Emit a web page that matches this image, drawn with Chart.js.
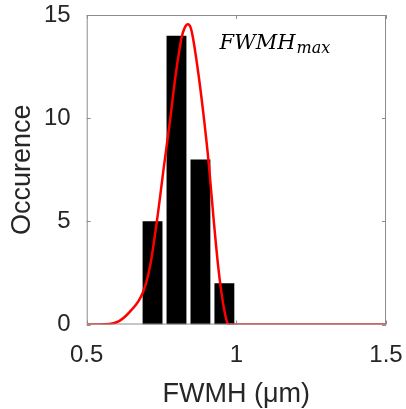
<!DOCTYPE html>
<html>
<head>
<meta charset="utf-8">
<script src="https://cdn.jsdelivr.net/npm/chart.js@4"></script>
<style>
  html, body { margin: 0; padding: 0; background: #fff; }
  #wrap { width: 406px; height: 409px; }
</style>
</head>
<body>
<div id="wrap"><canvas id="myChart" width="406" height="409"></canvas></div>
<script>
// histogram bins (bin centres) and counts
const binCentres = [0.72, 0.80, 0.88, 0.96];
const counts = [5, 14, 8, 2];

// fitted curve
const fitX = [0.5, 0.543, 0.6, 0.643, 0.688, 0.712, 0.734, 0.759, 0.779, 0.796, 0.817, 0.828, 0.838, 0.847, 0.855, 0.875, 0.892, 0.908, 0.925, 0.939, 0.950, 0.961, 0.969, 0.975, 1.5];
const fitY = [0, 0, 0.11, 0.6, 1.56, 2.85, 4.95, 7.77, 9.95, 11.96, 13.9, 14.4, 14.55, 14.4, 13.9, 11.96, 9.95, 7.77, 4.95, 2.85, 1.56, 0.6, 0.11, 0, 0];

const xTicks = [0.5, 1, 1.5];
const yTicks = [0, 5, 10, 15];

const frameColor = '#8c8c8c';

// MATLAB style box with inward ticks, plus the FWMH_max label
const framePlugin = {
    id: 'frame',
    afterDatasetsDraw(chart) {
        const ctx = chart.ctx;
        const a = chart.chartArea;
        const xs = chart.scales.x, ys = chart.scales.y;
        ctx.save();
        ctx.strokeStyle = frameColor;
        ctx.lineWidth = 1;
        ctx.strokeRect(a.left + 0.5, a.top + 0.5, a.right - a.left - 1, a.bottom - a.top - 1);
        ctx.beginPath();
        xTicks.forEach(v => {
            const px = Math.round(xs.getPixelForValue(v)) + 0.5;
            ctx.moveTo(px, a.bottom); ctx.lineTo(px, a.bottom - 4);
            ctx.moveTo(px, a.top); ctx.lineTo(px, a.top + 4);
        });
        yTicks.forEach(v => {
            const py = Math.round(ys.getPixelForValue(v)) + 0.5;
            ctx.moveTo(a.left, py); ctx.lineTo(a.left + 4, py);
            ctx.moveTo(a.right, py); ctx.lineTo(a.right - 4, py);
        });
        ctx.stroke();

        // label
        const lx = xs.getPixelForValue(0.944);
        const ly = ys.getPixelForValue(13.35);
        ctx.fillStyle = '#000';
        ctx.textBaseline = 'alphabetic';
        ctx.font = 'italic 21px "DejaVu Serif"';
        ctx.fillText('FWMH', lx, ly);
        const w = ctx.measureText('FWMH').width;
        ctx.font = 'italic 16px "DejaVu Serif"';
        ctx.fillText('max', lx + w + 1, ly + 4);
        ctx.restore();
    }
};

const ctx = document.getElementById('myChart');
const myChart = new Chart(ctx, {
    type: 'bar',
    data: {
        datasets: [
            {
                type: 'line',
                label: 'fit',
                data: fitX.map((x, i) => ({x: x, y: fitY[i]})),
                borderColor: '#ff0000',
                borderWidth: 2.5,
                pointRadius: 0,
                cubicInterpolationMode: 'monotone',
                fill: false,
                order: 0
            },
            {
                type: 'bar',
                label: 'counts',
                data: binCentres.map((x, i) => ({x: x, y: counts[i]})),
                backgroundColor: '#000000',
                borderWidth: 0,
                barPercentage: 1,
                categoryPercentage: 0.83,
                order: 1
            }
        ]
    },
    options: {
        responsive: false,
        animation: false,
        layout: {
            padding: {top: 15, right: 20, bottom: 0, left: 1}
        },
        scales: {
            x: {
                type: 'linear',
                offset: false,
                min: 0.5,
                max: 1.5,
                afterBuildTicks: s => { s.ticks = xTicks.map(v => ({value: v})); },
                afterFit: s => { s.paddingLeft = 0; s.paddingRight = 0; },
                grid: {display: false, offset: false},
                border: {display: false},
                ticks: {
                    color: '#262626',
                    font: {family: 'Liberation Sans', size: 24},
                    padding: 8,
                    maxRotation: 0,
                    callback: v => String(v)
                },
                title: {
                    display: true,
                    text: 'FWMH (μm)',
                    color: '#262626',
                    font: {family: 'Liberation Sans', size: 27, lineHeight: 1.1},
                    padding: {top: 2, bottom: 0}
                }
            },
            y: {
                min: 0,
                max: 15,
                afterBuildTicks: s => { s.ticks = yTicks.map(v => ({value: v})); },
                afterFit: s => { s.paddingTop = 0; s.paddingBottom = 0; },
                grid: {display: false},
                border: {display: false},
                ticks: {
                    color: '#262626',
                    font: {family: 'Liberation Sans', size: 24},
                    padding: 8
                },
                title: {
                    display: true,
                    text: 'Occurence',
                    color: '#262626',
                    font: {family: 'Liberation Sans', size: 27, lineHeight: 1.0},
                    padding: {top: 8, bottom: 0}
                }
            }
        },
        plugins: {
            legend: {display: false},
            tooltip: {enabled: false}
        }
    },
    plugins: [framePlugin]
});
</script>
</body>
</html>
